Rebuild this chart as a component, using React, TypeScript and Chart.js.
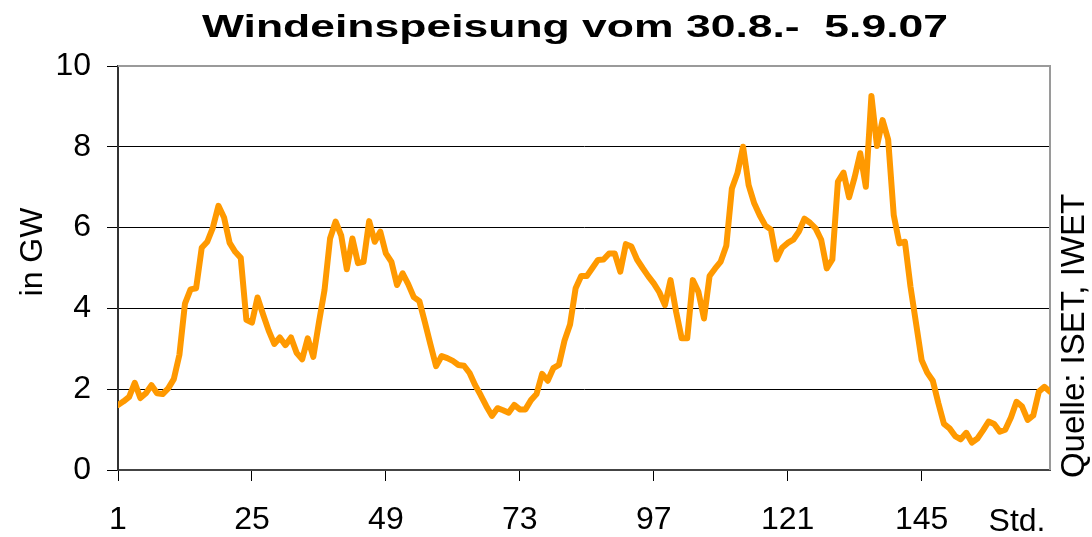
import React, { useEffect, useRef } from "react";
import { Chart, registerables } from "chart.js";

Chart.register(...registerables);

const TITLE = "Windeinspeisung vom 30.8.-  5.9.07";
const Y_LABEL = "in GW";
const SOURCE = "Quelle: ISET, IWET";
const X_UNIT = "Std.";
const X_TICKS = [1, 25, 49, 73, 97, 121, 145];
const Y_MIN = 0;
const Y_MAX = 10;
const Y_STEP = 2;

const HOURS = Array.from({ length: 168 }, (_, i) => i + 1);

const WIND_GW = [
  1.61, 1.7, 1.81, 2.16, 1.78, 1.9, 2.1, 1.9, 1.88, 2.02, 2.25, 2.85,
  4.12, 4.47, 4.5, 5.5, 5.65, 6.0, 6.54, 6.25, 5.62, 5.4, 5.25, 3.72,
  3.65, 4.27, 3.85, 3.45, 3.12, 3.28, 3.09, 3.28, 2.9, 2.74, 3.26, 2.8,
  3.65, 4.45, 5.73, 6.15, 5.8, 4.97, 5.73, 5.12, 5.15, 6.16, 5.65, 5.9,
  5.36, 5.15, 4.58, 4.87, 4.6, 4.28, 4.18, 3.65, 3.1, 2.57, 2.82, 2.77,
  2.7, 2.6, 2.58, 2.4, 2.1, 1.85, 1.58, 1.34, 1.53, 1.48, 1.42, 1.61,
  1.5, 1.5, 1.73, 1.88, 2.38, 2.21, 2.52, 2.6, 3.2, 3.6, 4.5, 4.8,
  4.8, 5.0, 5.2, 5.21, 5.36, 5.36, 4.91, 5.59, 5.53, 5.21, 5.0, 4.8,
  4.62, 4.4, 4.08, 4.7, 3.92, 3.26, 3.26, 4.7, 4.41, 3.75, 4.8, 4.99,
  5.16, 5.55, 6.97, 7.35, 8.0, 7.05, 6.6, 6.3, 6.05, 5.95, 5.21, 5.5,
  5.62, 5.7, 5.9, 6.22, 6.12, 5.98, 5.7, 4.99, 5.21, 7.14, 7.36, 6.75,
  7.25, 7.84, 7.01, 9.26, 8.02, 8.66, 8.18, 6.31, 5.61, 5.65, 4.54, 3.63,
  2.72, 2.41, 2.21, 1.65, 1.14, 1.03, 0.84, 0.76, 0.92, 0.68, 0.78, 0.98,
  1.2, 1.14, 0.95, 1.0, 1.3, 1.69, 1.57, 1.24, 1.35, 1.94, 2.06, 1.94,
];

const FONT = '"Liberation Sans", Arial, Helvetica, sans-serif';

const decorPlugin = {
  id: "decor",
  beforeDatasetsDraw(chart: any) {
    const { ctx, chartArea: a } = chart;
    ctx.save();
    ctx.strokeStyle = "#9a9a9a";
    ctx.lineWidth = 2;
    ctx.beginPath();
    ctx.moveTo(a.left, a.top);
    ctx.lineTo(a.right, a.top);
    ctx.lineTo(a.right, a.bottom);
    ctx.stroke();
    ctx.restore();
  },
  afterDraw(chart: any) {
    const { ctx } = chart;
    ctx.save();
    ctx.fillStyle = "#000";

    // Title (stretched horizontally as in the reference)
    ctx.font = `bold 32px ${FONT}`;
    ctx.textAlign = "center";
    ctx.textBaseline = "alphabetic";
    const tw = ctx.measureText(TITLE).width;
    ctx.save();
    ctx.translate(575, 37);
    ctx.scale(746 / tw, 1);
    ctx.fillText(TITLE, 0, 0);
    ctx.restore();

    // Y axis label
    ctx.font = `32px ${FONT}`;
    ctx.save();
    ctx.translate(42, 252);
    ctx.rotate(-Math.PI / 2);
    ctx.textAlign = "center";
    ctx.fillText(Y_LABEL, 0, 0);
    ctx.restore();

    // Source label on the right
    ctx.font = `33px ${FONT}`;
    ctx.save();
    ctx.translate(1084, 336);
    ctx.rotate(-Math.PI / 2);
    ctx.textAlign = "center";
    ctx.fillText(SOURCE, 0, 0);
    ctx.restore();

    // Unit label at the end of the x axis
    ctx.font = `32px ${FONT}`;
    ctx.textAlign = "center";
    ctx.fillText(X_UNIT, 1017, 531);

    ctx.restore();
  },
};

export default function App() {
  const canvasRef = useRef<HTMLCanvasElement | null>(null);

  useEffect(() => {
    const canvas = canvasRef.current;
    if (!canvas) return;
    const chart = new Chart(canvas, {
      type: "line",
      data: {
        datasets: [
          {
            data: HOURS.map((h, i) => ({ x: h, y: WIND_GW[i] })),
            borderColor: "#FF9900",
            borderWidth: 6,
            pointRadius: 0,
            tension: 0,
            borderJoinStyle: "round",
            borderCapStyle: "round",
            fill: false,
          },
        ],
      },
      options: {
        animation: false,
        responsive: true,
        maintainAspectRatio: false,
        layout: { padding: { top: 66, right: 42, bottom: 0, left: 0 } },
        plugins: {
          legend: { display: false },
          title: { display: false },
          tooltip: { enabled: false },
        },
        scales: {
          x: {
            type: "linear",
            min: HOURS[0],
            max: HOURS[HOURS.length - 1],
            afterBuildTicks: (scale: any) => {
              scale.ticks = X_TICKS.map((v) => ({ value: v }));
            },
            afterFit: (scale: any) => {
              scale.height = 67;
            },
            grid: {
              drawOnChartArea: false,
              drawTicks: true,
              tickLength: 11,
              tickColor: "#000",
              tickWidth: 1,
            },
            border: { display: true, color: "#444", width: 2 },
            ticks: {
              autoSkip: false,
              maxRotation: 0,
              padding: 20,
              color: "#000",
              font: { family: FONT, size: 32 },
              callback: (v: any) => String(v),
            },
          },
          y: {
            type: "linear",
            min: Y_MIN,
            max: Y_MAX,
            afterFit: (scale: any) => {
              scale.width = 118;
            },
            grid: {
              color: (c: any) =>
                c.tick && (c.tick.value === Y_MIN || c.tick.value === Y_MAX)
                  ? "rgba(0,0,0,0)"
                  : "#000",
              lineWidth: 1,
              drawTicks: true,
              tickLength: 11,
              tickColor: "#000",
              tickWidth: 1,
            },
            border: { display: true, color: "#333", width: 2 },
            ticks: {
              stepSize: Y_STEP,
              padding: 16,
              color: "#000",
              font: { family: FONT, size: 32 },
            },
          },
        },
      },
      plugins: [decorPlugin],
    } as any);
    return () => chart.destroy();
  }, []);

  return (
    <div
      style={{
        position: "fixed",
        left: 0,
        top: 0,
        width: "1092px",
        height: "537px",
        background: "#fff",
      }}
    >
      <canvas ref={canvasRef} />
    </div>
  );
}
